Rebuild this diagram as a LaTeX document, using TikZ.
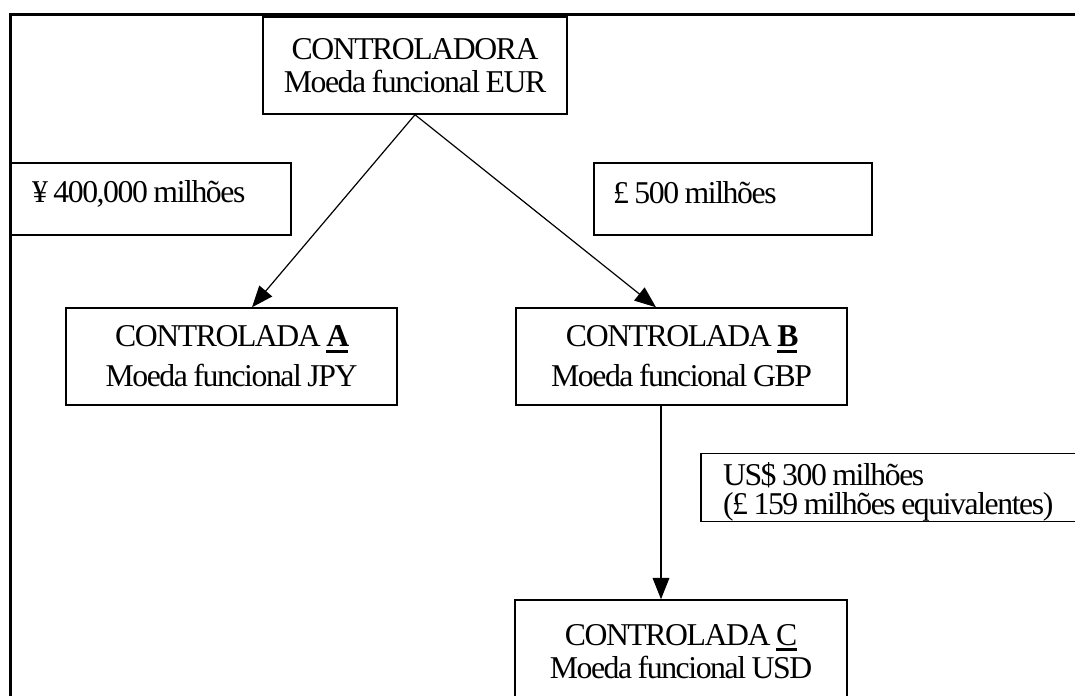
\documentclass[tikz,border=0pt]{standalone}
\usepackage{fontspec}
\setmainfont{Liberation Serif}[LetterSpace=-4.5,WordSpace=0.85]
\usetikzlibrary{arrows.meta,calc}
\newcommand{\pxu}{0.75pt}
\newcommand{\fsz}[1]{\fontsize{23.8pt}{#1}\selectfont}
\newsavebox{\ulsb}
\newcommand{\myul}[2]{\sbox\ulsb{#2}\rlap{\rule[\dimexpr-2.2pt-#1\relax]{\wd\ulsb}{#1}}\usebox\ulsb}
\newcommand{\nsp}{\spaceskip=0pt\xspaceskip=0pt\relax}
\begin{document}
\begin{tikzpicture}[x=0.75pt,y=-0.75pt,
  box/.style={draw, line width=1.1pt, inner sep=0pt, align=center},
  arr/.style={line width=0.9pt, -{Triangle[length=16pt,width=12.5pt]}},
  frame/.style={line width=2pt}]
\useasboundingbox (0,0) rectangle (1075,696);
\clip (0,0) rectangle (1075,696);
\draw[frame] (10.5,14.5) rectangle (1200,800);

\node[box, minimum width=304*\pxu, minimum height=97*\pxu, font=\fsz{24.75pt}] (top) at (415,65.5) {CONTROLADORA\\Moeda funcional EUR};

\node[box, minimum width=280*\pxu, minimum height=72*\pxu, text width=238*\pxu, inner xsep=21*\pxu, align=left, text height=16pt, text depth=11pt, font=\fsz{28pt}] (yen) at (151,199) {\nsp ¥ 400,000 milhões};

\node[box, minimum width=278*\pxu, minimum height=72*\pxu, text width=240*\pxu, inner xsep=19*\pxu, align=left, text height=16pt, text depth=9pt, font=\fsz{28pt}] (gbp) at (733,199) {\nsp £ 500 milhões};

\node[box, minimum width=331*\pxu, minimum height=97*\pxu, font=\fsz{30pt}] (a) at (231.5,356.5) {CONTROLADA \myul{2.6pt}{\textbf{A}}\\Moeda funcional JPY};

\node[box, minimum width=331*\pxu, minimum height=97*\pxu, font=\fsz{30pt}] (b) at (681.5,356.5) {CONTROLADA \myul{2.6pt}{\textbf{B}}\\Moeda funcional GBP};

\node[box, minimum width=399*\pxu, minimum height=67*\pxu, text width=355*\pxu, inner xsep=22*\pxu, align=left, text height=24pt, font=\fsz{21.75pt}] (usd) at (900.5,487.5) {\nsp US\$ 300 milhões\\(£ 159 milhões equivalentes)};

\node[box, minimum width=332*\pxu, minimum height=103*\pxu, font=\fsz{24.75pt}] (c) at (681,651.5) {CONTROLADA \myul{1.8pt}{C}\\Moeda funcional USD};

\draw[arr] (top.south) -- ([xshift=20.5*\pxu]a.north);
\draw[arr] (top.south) -- ([xshift=-25.5*\pxu]b.north);
\draw[arr] ([xshift=-20.5*\pxu]b.south) -- ([xshift=-20*\pxu]c.north);
\end{tikzpicture}
\end{document}
